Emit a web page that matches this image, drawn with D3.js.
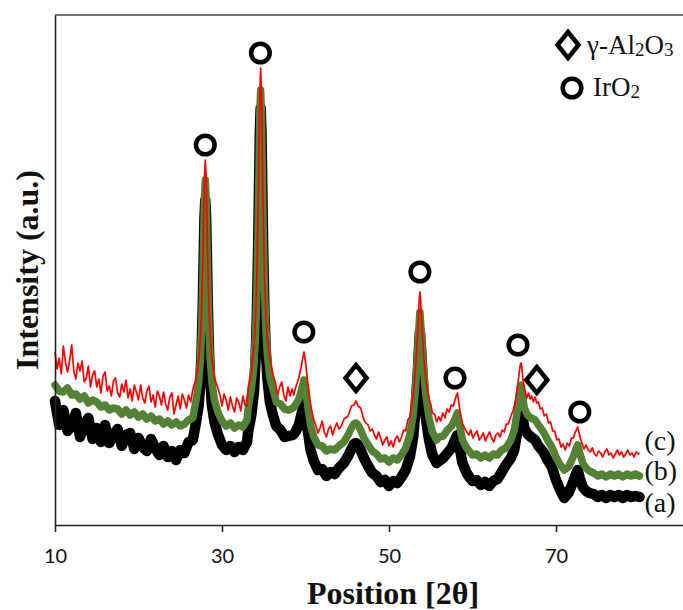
<!DOCTYPE html>
<html><head><meta charset="utf-8">
<script src="https://cdn.jsdelivr.net/npm/d3@7"></script>
<style>html,body{margin:0;padding:0;background:#fff;} svg{display:block;}</style>
</head><body>
<svg id="chart" width="683" height="610"></svg>
<script>
// ---- data: [2theta, intensity (a.u.)] ----
const xTicks = [10, 30, 50, 70];

// (c) red
const seriesC = [[10,173],[10.25,156],[10.5,167],[10.75,151],[11,179],[11.25,163],[11.5,153],[11.75,164],[12,180],[12.25,154],[12.5,146],[12.75,162],[13,154],[13.25,164],[13.5,143],[13.75,147],[14,159],[14.25,138],[14.5,150],[14.75,154],[15,138],[15.25,146],[15.5,132],[15.75,149],[16,153],[16.25,134],[16.5,139],[16.75,129],[17,144],[17.25,147],[17.5,132],[17.75,128],[18,141],[18.25,133],[18.5,145],[18.75,127],[19,136],[19.25,124],[19.5,140],[19.75,133],[20,125],[20.25,140],[20.5,127],[20.75,122],[21,134],[21.25,139],[21.5,123],[21.75,130],[22,118],[22.25,134],[22.5,129],[22.75,120],[23,133],[23.25,121],[23.5,115],[23.75,128],[24,132],[24.25,111],[24.5,120],[24.75,129],[25,116],[25.25,131],[25.5,125],[25.75,117],[26,130],[26.25,123],[26.5,135],[26.9,147],[27.2,164],[27.4,186],[27.55,215],[27.7,263],[27.8,306],[27.9,347],[28,365],[28.1,347],[28.2,306],[28.3,263],[28.45,215],[28.6,186],[28.8,164],[29.1,147],[29.5,137],[29.75,130],[30,119],[30.25,131],[30.5,125],[30.75,115],[31,128],[31.25,119],[31.5,113],[31.75,127],[32,123],[32.25,114],[32.5,129],[32.75,120],[33,119],[33.13,137],[33.53,153],[33.83,178],[34.03,210],[34.18,251],[34.33,318],[34.43,377],[34.53,432],[34.63,457],[34.73,432],[34.83,377],[34.93,318],[35.08,255],[35.23,215],[35.43,187],[35.73,165],[36.13,150],[36.4,142],[36.65,130],[36.9,138],[37.15,143],[37.4,130],[37.65,124],[37.9,138],[38.15,129],[38.4,136],[38.6,130],[38.8,137],[39.2,147],[39.5,159],[39.7,168],[39.82,173],[40,163],[40.3,140],[40.6,120],[41,105],[41.25,99],[41.5,92],[41.75,97],[42,104],[42.25,93],[42.5,88],[42.75,96],[43,99],[43.25,90],[43.5,97],[43.75,102],[44,96],[44.3,99],[44.6,106],[45.1,109],[45.5,119],[45.8,120],[46.05,124],[46.3,119],[46.6,117],[47,105],[47.25,102],[47.5,100],[47.75,94],[48,96],[48.25,90],[48.5,86],[48.75,93],[49,87],[49.25,80],[49.5,85],[49.75,88],[50,79],[50.25,84],[50.5,78],[50.75,86],[51,89],[51.25,83],[51.5,88],[51.75,95],[52,94],[52.25,105],[52.5,108],[52.7,120],[52.9,129],[53.05,143],[53.2,160],[53.35,180],[53.45,195],[53.55,213],[53.62,225],[53.7,233],[53.78,225],[53.85,213],[53.95,197],[54.1,177],[54.25,160],[54.4,147],[54.6,135],[54.8,125],[55,121],[55.2,112],[55.45,111],[55.7,103],[55.95,108],[56.2,104],[56.45,112],[56.7,107],[56.95,116],[57.2,113],[57.45,120],[57.7,119],[57.9,125],[58.05,129],[58.2,132],[58.35,123],[58.55,111],[58.8,101],[59.05,97],[59.3,93],[59.55,90],[59.8,95],[60.05,87],[60.3,91],[60.55,94],[60.8,85],[61.05,88],[61.3,92],[61.55,84],[61.8,89],[62.05,93],[62.3,87],[62.55,83],[62.8,90],[63.05,92],[63.3,88],[63.55,95],[63.8,93],[64.05,101],[64.3,101],[64.6,109],[64.85,114],[65,119],[65.15,125],[65.3,133],[65.45,142],[65.55,149],[65.65,156],[65.75,161],[65.82,162],[65.9,158],[66,149],[66.15,139],[66.3,134],[66.5,127],[66.7,132],[66.9,126],[67.1,129],[67.3,123],[67.5,128],[67.7,122],[67.9,123],[68.1,116],[68.35,117],[68.6,109],[68.85,111],[69.1,102],[69.35,103],[69.6,94],[69.85,94],[70.1,85],[70.35,86],[70.6,78],[70.85,81],[71.1,75],[71.35,82],[71.6,79],[71.85,87],[72.1,87],[72.3,93],[72.45,95],[72.6,98],[72.75,93],[72.9,87],[73.1,82],[73.35,76],[73.6,80],[73.85,75],[74.1,73],[74.35,77],[74.6,71],[74.85,69],[75.1,74],[75.35,72],[75.6,68],[75.85,73],[76.1,76],[76.35,70],[76.6,72],[76.85,67],[77.1,71],[77.35,75],[77.6,70],[77.85,73],[78.1,68],[78.35,71],[78.6,75],[78.85,70],[79.1,72],[79.35,68],[79.6,73],[79.85,71],[80,72]];

// (b) green
const seriesB = [[10,140],[10.5,134],[11,133],[11.5,137],[12,130],[12.5,131],[13,126],[13.5,129],[14,122],[14.5,125],[15,123],[15.5,118],[16,120],[16.5,115],[17,117],[17.5,116],[18,111],[18.5,115],[19,110],[19.5,113],[20,108],[20.5,111],[21,106],[21.5,109],[22,104],[22.5,106],[23,101],[23.5,104],[24,100],[24.5,103],[25,99],[25.5,101],[26,105],[26.5,107],[26.9,125],[27.2,142],[27.4,164],[27.55,194],[27.7,242],[27.8,285],[27.9,327],[28,345],[28.1,327],[28.2,285],[28.3,242],[28.45,194],[28.6,164],[28.8,142],[29.1,125],[29.5,113],[30,104],[30.5,99],[31,102],[31.5,97],[32,100],[32.5,98],[33,105],[33.13,117],[33.53,137],[33.83,160],[34.03,192],[34.18,234],[34.33,298],[34.43,356],[34.53,411],[34.63,435],[34.73,411],[34.83,356],[34.93,298],[35.08,237],[35.23,200],[35.43,170],[35.73,148],[36.13,135],[36.5,123],[37,121],[37.5,116],[38,115],[38.5,117],[38.8,120],[39.2,126],[39.5,134],[39.7,141],[39.82,145],[40,137],[40.3,117],[40.6,100],[41,88],[41.5,80],[42,79],[42.5,74],[43,76],[43.5,75],[44,79],[44.6,83],[45.1,90],[45.5,97],[45.8,101],[46.05,102],[46.3,100],[46.6,95],[47,87],[47.5,80],[48,74],[48.5,71],[49,66],[49.5,67],[50,63],[50.5,67],[51,65],[51.5,70],[52,77],[52.5,90],[52.9,110],[53.2,140],[53.45,175],[53.6,200],[53.7,213],[53.85,195],[54.1,160],[54.4,130],[54.8,107],[55.2,93],[55.7,85],[56,88],[56.5,89],[57,95],[57.5,99],[57.8,104],[58.05,109],[58.2,112],[58.4,102],[58.8,85],[59.3,77],[59.7,73],[60,70],[60.5,71],[61,67],[61.5,70],[62,67],[62.5,71],[63,70],[63.5,75],[64,77],[64.6,85],[65,95],[65.3,110],[65.55,127],[65.7,137],[65.8,140],[65.95,132],[66.2,117],[66.6,110],[67,107],[67.5,105],[67.9,100],[68.5,93],[69,85],[69.5,78],[70,68],[70.5,60],[71,55],[71.5,58],[72,67],[72.35,75],[72.6,80],[72.85,72],[73.2,62],[73.6,57],[74,54],[74.5,52],[75,49],[75.5,51],[76,48],[76.5,51],[77,49],[77.5,51],[78,48],[78.5,51],[79,49],[79.5,51],[80,49]];

// (a) black
const seriesA = [[10,124],[10.5,100],[11,115],[11.5,94],[12,99],[12.5,112],[13,88],[13.5,101],[14,107],[14.5,86],[15,97],[15.5,83],[16,100],[16.5,82],[17,90],[17.5,96],[18,79],[18.5,90],[19,92],[19.5,76],[20,87],[20.5,78],[21,74],[21.5,86],[22,77],[22.5,70],[23,79],[23.5,68],[24,74],[24.5,65],[25,75],[25.5,72],[26,83],[26.5,85],[26.9,103],[27.2,119],[27.4,142],[27.55,172],[27.7,221],[27.8,265],[27.9,307],[28,325],[28.1,307],[28.2,265],[28.3,221],[28.45,172],[28.6,142],[28.8,119],[29.1,103],[29.5,91],[30,80],[30.5,75],[31,79],[31.5,73],[32,78],[32.5,75],[33,83],[33.13,93],[33.53,111],[33.83,133],[34.03,167],[34.18,212],[34.33,278],[34.43,336],[34.53,392],[34.63,417],[34.73,392],[34.83,336],[34.93,278],[35.08,215],[35.23,177],[35.43,147],[35.73,123],[36.13,109],[36.5,99],[37,95],[37.5,88],[38,89],[38.5,90],[38.8,93],[39.2,100],[39.5,110],[39.7,118],[39.82,122],[40,113],[40.3,93],[40.6,75],[41,64],[41.5,55],[42,56],[42.5,49],[43,53],[43.5,51],[44,57],[44.6,62],[45.1,69],[45.5,76],[45.8,81],[46.05,82],[46.3,80],[46.6,75],[47,67],[47.5,59],[48,52],[48.5,49],[49,43],[49.5,45],[50,39],[50.5,44],[51,42],[51.5,48],[52,55],[52.5,68],[52.9,88],[53.2,118],[53.45,153],[53.6,178],[53.7,193],[53.85,175],[54.1,138],[54.4,108],[54.8,85],[55.2,70],[55.7,62],[56,64],[56.5,67],[57,72],[57.5,77],[57.8,83],[58.05,88],[58.2,90],[58.4,80],[58.8,62],[59.3,52],[59.7,47],[60,44],[60.5,45],[61,40],[61.5,43],[62,39],[62.5,44],[63,46],[63.5,53],[64,60],[64.6,67],[65,75],[65.3,90],[65.55,107],[65.7,117],[65.8,120],[65.95,112],[66.2,97],[66.6,91],[67,88],[67.5,85],[67.9,79],[68.5,73],[69,65],[69.5,58],[70,45],[70.5,35],[71,27],[71.5,32],[72,42],[72.35,50],[72.6,55],[72.85,47],[73.2,38],[73.6,34],[74,32],[74.5,31],[75,28],[75.5,30],[76,27],[76.5,30],[77,28],[77.5,30],[78,27],[78.5,30],[79,28],[79.5,29],[80,28]];

// peak markers [2theta, intensity]
const iro2Marks = [[28.0,380],[34.6,472],[39.8,193],[53.7,253],[57.9,147],[65.45,180],[72.85,113]];
const al2o3Marks = [[46.05,147],[67.7,145]];

// curve labels [name, 2theta, intensity]
const curveLabels = [["(c)",80.6,75],["(b)",80.6,45],["(a)",80.6,13]];

// ---- drawing ----
const W = 683, H = 610;
const svg = d3.select("#chart");
const x = d3.scaleLinear().domain([10, 85.21]).range([55, 683]);
const y = d3.scaleLinear().domain([0, 510]).range([525, 15]);
const SERIF = "'Liberation Serif','Times New Roman',serif";

// top frame line
svg.append("line")
  .attr("x1", x(10)).attr("x2", W)
  .attr("y1", y(510)).attr("y2", y(510))
  .attr("stroke", "#444").attr("stroke-width", 1.6);

const line = d3.line().x(d => x(d[0])).y(d => y(d[1]));

svg.append("path").datum(seriesA).attr("d", line)
  .attr("fill", "none").attr("stroke", "#000").attr("stroke-width", 10.5)
  .attr("stroke-linejoin", "round").attr("stroke-linecap", "round");
svg.append("path").datum(seriesB).attr("d", line)
  .attr("fill", "none").attr("stroke", "#548235").attr("stroke-width", 7.5)
  .attr("stroke-linejoin", "round").attr("stroke-linecap", "round");
svg.append("path").datum(seriesC).attr("d", line)
  .attr("fill", "none").attr("stroke", "#ff0000").attr("stroke-width", 1.7)
  .attr("stroke-linejoin", "round");

// axes
const gx = svg.append("g").attr("transform", `translate(0,${y(0)})`)
  .call(d3.axisBottom(x).tickValues(xTicks).tickSize(7).tickSizeOuter(0));
gx.select(".domain").attr("stroke", "#222").attr("stroke-width", 1.6);
gx.selectAll(".tick line").attr("stroke", "#222").attr("stroke-width", 1.6);
gx.selectAll(".tick text").attr("y", 38).attr("dy", 0)
  .attr("font-family", "Lato, 'Open Sans', sans-serif").attr("font-size", 20).attr("fill", "#111");

const gy = svg.append("g").attr("transform", `translate(${x(10)},0)`)
  .call(d3.axisLeft(y).tickValues([]).tickSizeOuter(0));
gy.select(".domain").attr("stroke", "#222").attr("stroke-width", 1.6);

// markers
svg.selectAll("circle.irO2").data(iro2Marks).join("circle")
  .attr("class", "irO2")
  .attr("cx", d => x(d[0])).attr("cy", d => y(d[1])).attr("r", 9.3)
  .attr("fill", "#fff").attr("stroke", "#000").attr("stroke-width", 4.5);
const diamond = "M0,-13L10.5,0L0,13L-10.5,0Z";
svg.selectAll("path.al").data(al2o3Marks).join("path")
  .attr("class", "al")
  .attr("transform", d => `translate(${x(d[0])},${y(d[1])})`)
  .attr("d", diamond)
  .attr("fill", "#fff").attr("stroke", "#000").attr("stroke-width", 4.5);

// curve labels
svg.selectAll("text.clab").data(curveLabels).join("text")
  .attr("class", "clab")
  .attr("x", d => x(d[1])).attr("y", d => y(d[2]))
  .attr("font-family", SERIF).attr("font-size", 28).attr("fill", "#111")
  .text(d => d[0]);

// legend
const lg = svg.append("g");
lg.append("path").attr("transform", "translate(568,45)").attr("d", diamond)
  .attr("fill", "#fff").attr("stroke", "#000").attr("stroke-width", 4.5);
const t1 = lg.append("text").attr("x", 587).attr("y", 54)
  .attr("font-family", SERIF).attr("font-size", 27).attr("fill", "#111");
t1.append("tspan").text("γ-Al");
t1.append("tspan").attr("font-size", 19).attr("dy", 2).text("2");
t1.append("tspan").attr("dy", -2).text("O");
t1.append("tspan").attr("font-size", 19).attr("dy", 2).text("3");
lg.append("circle").attr("cx", 572).attr("cy", 88).attr("r", 9.3)
  .attr("fill", "#fff").attr("stroke", "#000").attr("stroke-width", 4.5);
const t2 = lg.append("text").attr("x", 593).attr("y", 96)
  .attr("font-family", SERIF).attr("font-size", 27).attr("fill", "#111");
t2.append("tspan").text("IrO");
t2.append("tspan").attr("font-size", 19).attr("dy", 2).text("2");

// axis titles
svg.append("text").attr("x", 393).attr("y", 604).attr("text-anchor", "middle")
  .attr("font-family", SERIF).attr("font-weight", "bold").attr("font-size", 32).attr("fill", "#111")
  .text("Position [2θ]");
svg.append("text").attr("transform", "translate(38,270) rotate(-90)").attr("text-anchor", "middle")
  .attr("font-family", SERIF).attr("font-weight", "bold").attr("font-size", 32).attr("fill", "#111")
  .text("Intensity (a.u.)");
</script>
</body></html>
